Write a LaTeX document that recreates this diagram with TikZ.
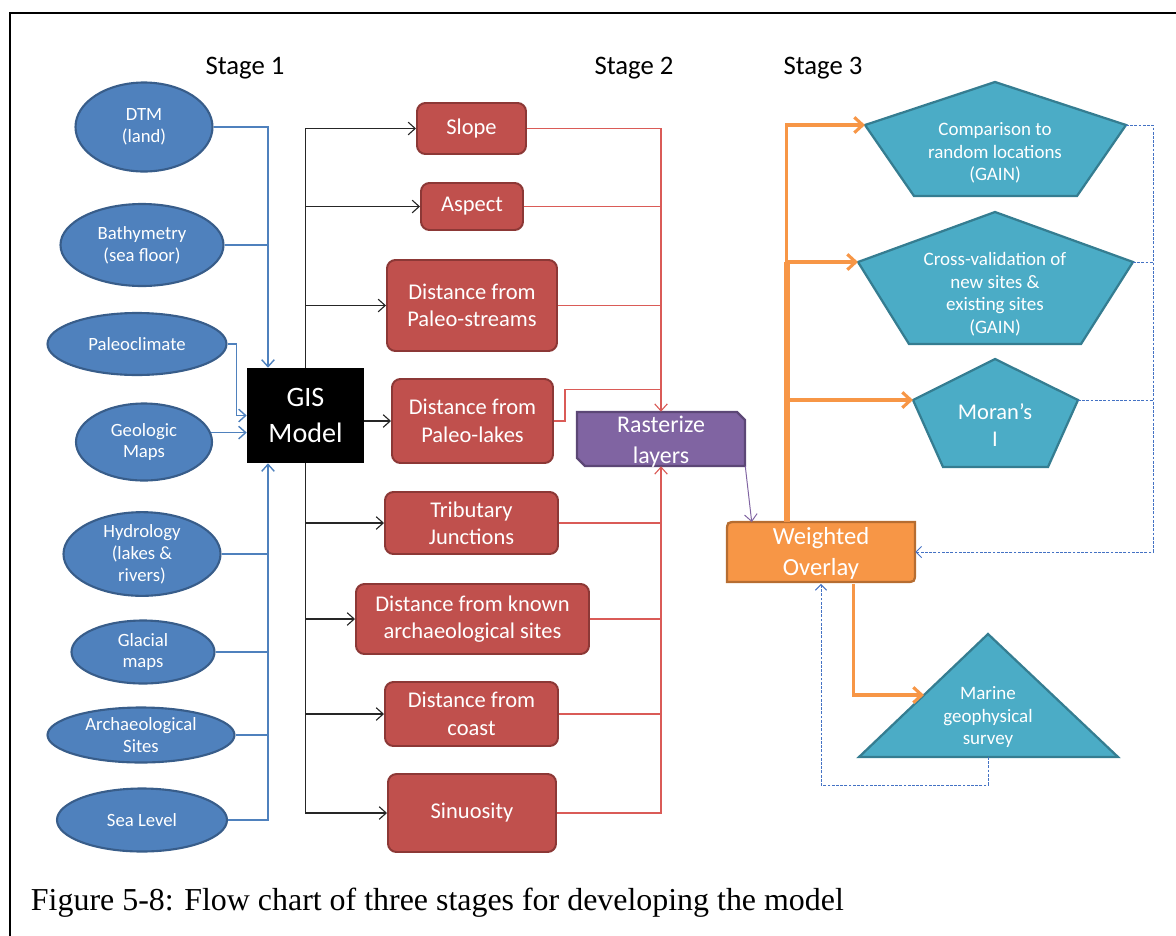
\documentclass[tikz,border=0pt]{standalone}
\usepackage{fontspec}
\setmainfont{Carlito}
\newfontfamily\capfont{Liberation Serif}
\usetikzlibrary{arrows.meta,positioning,calc,shapes.geometric}

\definecolor{srcblue}{HTML}{4F81BD}
\definecolor{srcline}{HTML}{385D8A}
\definecolor{lyrred}{HTML}{C0504D}
\definecolor{lyrline}{HTML}{8C3836}
\definecolor{redwire}{HTML}{DA5B57}
\definecolor{rastpurp}{HTML}{8064A2}
\definecolor{rastline}{HTML}{5C4776}
\definecolor{ovorange}{HTML}{F79646}
\definecolor{ovline}{HTML}{B66D31}
\definecolor{valteal}{HTML}{4BACC6}
\definecolor{valline}{HTML}{357D91}
\definecolor{fbblue}{HTML}{4472C4}

\newcommand\pxu{0.025cm}

\tikzset{
  stage/.style={anchor=base, font=\fontsize{19}{23}\selectfont},
  src/.style={ellipse, draw=srcline, line width=1.5pt, fill=srcblue, text=white,
    align=center, inner sep=0pt, font=\fontsize{13.3}{15.5}\selectfont},
  gisbox/.style={rectangle, fill=black, text=white, align=center,
    font=\fontsize{20}{25}\selectfont},
  lyr/.style={rectangle, rounded corners=6pt, draw=lyrline, line width=1.4pt,
    fill=lyrred, text=white, align=center, font=\fontsize{16}{19.5}\selectfont},
  valshape/.style={draw=valline, line width=1.6pt, fill=valteal},
  valtxt/.style={text=white, align=center, font=\fontsize{13.5}{16}\selectfont},
  srcwire/.style={draw=srcblue, line width=1pt, >={Straight Barb[length=5pt,width=9pt]}},
  giswire/.style={draw=black!85, line width=0.8pt, >={Straight Barb[length=5pt,width=9pt]}},
  lyrwire/.style={draw=redwire, line width=0.8pt, >={Straight Barb[length=5pt,width=9pt]}},
  ovwire/.style={draw=ovorange, line width=2.2pt, >={Straight Barb[length=6pt,width=11pt]}},
  fbwire/.style={draw=fbblue, line width=0.7pt, dash pattern=on 2pt off 1pt,
    >={Straight Barb[length=4pt,width=8pt]}},
}

\begin{document}
\begin{tikzpicture}[x=\pxu, y=-\pxu]
    \useasboundingbox (0,0) rectangle (1176,935);
    \draw[line width=1.6pt] (10,936) -- (10,13) -- (1177,13);

    \node[stage] (st1) at (245,74) {Stage 1};
    \node[stage] (st2) at (634,74) {Stage 2};
    \node[stage] (st3) at (823,74) {Stage 3};

    %% stage 1: input data
    \node[src, minimum width=137*\pxu, minimum height=89*\pxu] (dtm)   at (144,127) {DTM\\(land)};
    \node[src, minimum width=163*\pxu, minimum height=82*\pxu] (bathy) at (142,245) {Bathymetry\\(sea floor)};
    \node[src, minimum width=179*\pxu, minimum height=62*\pxu] (paleo) at (137,344) {Paleoclimate};
    \node[src, minimum width=136*\pxu, minimum height=77*\pxu] (geo)   at (144,442) {Geologic\\Maps};
    \node[src, minimum width=157*\pxu, minimum height=82*\pxu] (hydro) at (142,554) {Hydrology\\(lakes \&\\rivers)};
    \node[src, minimum width=143*\pxu, minimum height=63*\pxu] (glac)  at (143,652) {Glacial\\maps};
    \node[src, minimum width=187*\pxu, minimum height=55*\pxu] (arch)  at (141,735) {Archaeological\\Sites};
    \node[src, minimum width=170*\pxu, minimum height=63*\pxu] (sea)   at (142,820) {Sea Level};

    \node[gisbox, minimum width=117*\pxu, minimum height=95*\pxu] (gis) at (305.5,415.5) {GIS\\Model};
    \coordinate (bus) at (268,415);

    \draw[srcwire,->] (dtm.east) -| (bus |- gis.north);
    \draw[srcwire] (bathy.east) -- (bus |- bathy.east);
    \draw[srcwire,->] (paleo.east) -| ($(gis.west)+(-10,0)$) -- (gis.west);
    \draw[srcwire,->] (geo.8) -- (gis.west |- geo.8);
    \draw[srcwire] (hydro.east) -- (bus |- hydro.east);
    \draw[srcwire] (glac.east) -- (bus |- glac.east);
    \draw[srcwire] (arch.east) -- (bus |- arch.east);
    \draw[srcwire,->] (sea.east) -| (bus |- gis.south);

    %% stage 2: derived layers
    \node[lyr, minimum width=109*\pxu, minimum height=51*\pxu] (slope)   at (471.5,128.5) {Slope};
    \node[lyr, minimum width=102*\pxu, minimum height=47*\pxu] (aspect)  at (472,206.5) {Aspect};
    \node[lyr, minimum width=170*\pxu, minimum height=91*\pxu] (streams) at (472,305.5) {Distance from\\Paleo-streams};
    \node[lyr, minimum width=161*\pxu, minimum height=84*\pxu] (lakes)   at (472.5,421) {Distance from\\Paleo-lakes};
    \node[lyr, minimum width=173*\pxu, minimum height=62*\pxu] (trib)    at (471.5,523) {Tributary\\Junctions};
    \node[lyr, minimum width=233*\pxu, minimum height=70*\pxu] (known)   at (472.5,619) {Distance from known\\archaeological sites};
    \node[lyr, minimum width=173*\pxu, minimum height=64*\pxu] (coast)   at (471.5,714) {Distance from\\coast};
    \node[lyr, minimum width=168*\pxu, minimum height=78*\pxu] (sinu)    at (472,813) {Sinuosity};

    \draw[giswire,->] (gis.north) |- (slope.west);
    \draw[giswire,->] (gis.north) |- (aspect.west);
    \draw[giswire,->] (gis.north) |- (streams.west);
    \draw[giswire,->] (gis.east |- lakes.west) -- (lakes.west);
    \draw[giswire,->] (gis.south) |- (trib.west);
    \draw[giswire,->] (gis.south) |- (known.west);
    \draw[giswire,->] (gis.south) |- (coast.west);
    \draw[giswire,->] (gis.south) |- (sinu.west);

    % rasterize box, snipped corners
    \draw[draw=rastline, line width=1.6pt, fill=rastpurp]
        (577,412) -- (737,412) -- (745,420) -- (745,466) -- (585,466) -- (577,458) -- cycle;
    \node[text=white, align=center, font=\fontsize{17}{22}\selectfont,
        minimum width=168*\pxu, minimum height=54*\pxu] (rast) at (661,439) {};
    \node[text=white, align=center, font=\fontsize{17}{22}\selectfont] (rasttxt) at (661,442) {Rasterize\\layers};

    \draw[lyrwire,->] (slope.east) -| (rast.north);
    \draw[lyrwire] (aspect.east) -- (rast.north |- aspect.east);
    \draw[lyrwire] (streams.east) -- (rast.north |- streams.east);
    \draw[lyrwire] (lakes.east) -- ++(11,0) |- ($(rast.north)+(0,-22)$);
    \draw[lyrwire,->] (sinu.east) -| (rast.south);
    \draw[lyrwire] (trib.east) -- (rast.south |- trib.east);
    \draw[lyrwire] (known.east) -- (rast.south |- known.east);
    \draw[lyrwire] (coast.east) -- (rast.south |- coast.east);

    %% stage 3: overlay and validation
    \draw[draw=ovline, line width=1.6pt, fill=ovorange]
        (727,582) -- (727,532) .. controls (727,522) .. (737,522) -- (915,522)
        -- (915,572) .. controls (915,582) .. (905,582) -- cycle;
    \node[text=white, align=center, font=\fontsize{17.5}{22}\selectfont,
        minimum width=188*\pxu, minimum height=60*\pxu] (ov) at (821,553) {Weighted\\Overlay};

    \draw[draw=rastpurp, line width=0.7pt, >={Straight Barb[length=5pt,width=9pt]}, ->]
        (rast.south east) -- ($(ov.north west)+(25,0)$);

    \draw[valshape] (995,82) -- (1126,125) coordinate (cmpR) -- (1077,196) -- (914,196)
        -- (865,125) coordinate (cmpL) -- cycle;
    \node[valtxt] (cmp) at (995,153) {Comparison to\\random locations\\(GAIN)};

    \draw[valshape] (995,212) -- (1133,262) coordinate (crsR) -- (1081,344) -- (909,344)
        -- (858,262) coordinate (crsL) -- cycle;
    \node[valtxt] (crs) at (995,294) {Cross-validation of\\new sites \&\\existing sites\\(GAIN)};

    \draw[valshape] (995,359) -- (1078,400) coordinate (morR) -- (1048,467) -- (943,467)
        -- (913,400) coordinate (morL) -- cycle;
    \node[valtxt, font=\fontsize{16}{19.5}\selectfont] (mor) at (995,425) {Moran’s\\I};

    \draw[valshape] (988,634) -- (1118,757) -- (988,757) coordinate (marB) -- (859,757) -- cycle;
    \coordinate (marL) at (924,695);
    \node[valtxt] (mar) at (988,717) {Marine\\geophysical\\survey};

    \coordinate (otr) at ($(ov.north west)+(60,0)$);
    \draw[ovwire, line width=4pt] (otr) -- (otr |- crsL);
    \draw[ovwire,->] (otr) |- (cmpL);
    \draw[ovwire,->] (otr) |- (crsL);
    \draw[ovwire,->] (otr) |- (morL);
    \draw[ovwire,->] ($(ov.south west)+(127,0)$) |- (marL);

    % feedback to the overlay
    \coordinate (fb) at (1153,552);
    \draw[fbwire,->] (cmpR) -| (fb) -- (ov.east |- fb);
    \draw[fbwire] (crsR) -- (fb |- crsR);
    \draw[fbwire] (morR) -- (fb |- morR);
    \draw[fbwire,->] (marB) -- ++(0,28) -| (ov.south);

    \node[anchor=base west, font=\capfont\fontsize{22.7}{27}\selectfont] (cap) at (26,910)
        {Figure 5-8: Flow chart of three stages for developing the model};
\end{tikzpicture}
\end{document}
